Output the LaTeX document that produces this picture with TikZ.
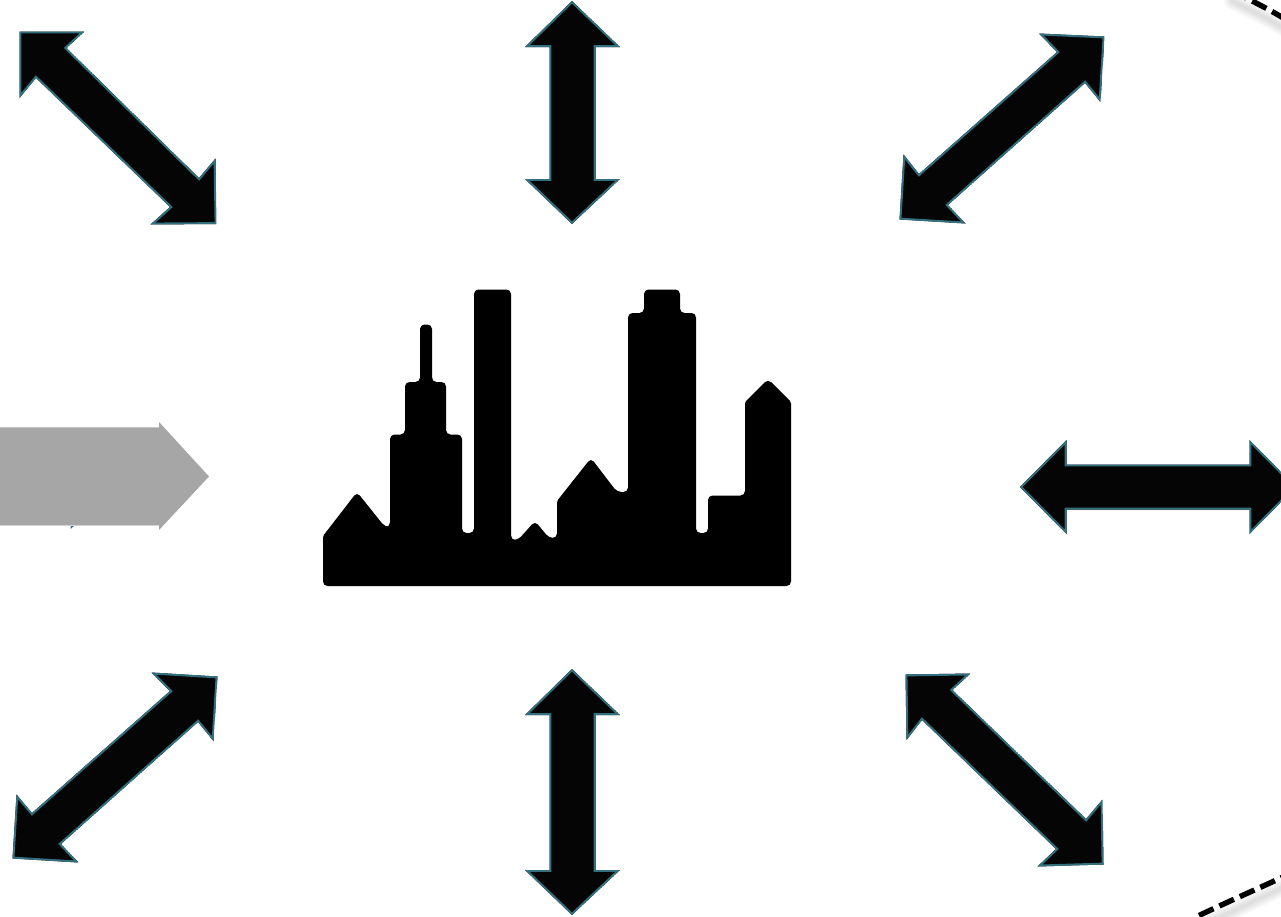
\documentclass[tikz,border=0pt]{standalone}
\definecolor{edgeteal}{HTML}{33707F}
\definecolor{nearblack}{HTML}{050505}
\definecolor{grayfill}{HTML}{A6A6A6}
\definecolor{grayedge}{HTML}{DADADA}
\newcommand{\dblshape}[1]{%
  \begin{scope}
    \clip #1;
    \fill[nearblack] #1;
    \draw[edgeteal,line width=3.8pt,line join=miter] #1;
  \end{scope}}
\tikzset{
  grayarrow/.style={fill=grayfill,draw=none},
  skyline/.style={fill=black,draw=none,rounded corners=4.5pt},
  ring/.style={draw=black,line width=5.4pt,dash pattern=on 16pt off 6.5pt},
  ringshade/.style={draw=black,opacity=0.016,line cap=round}
}
\begin{document}
\begin{tikzpicture}[x=1pt,y=-1pt]
\useasboundingbox (0,0) rectangle (1281,916);
\fill[white] (0,0) rectangle (1281,916);
\begin{scope}
\clip (0,0) rectangle (1281,916);
\foreach \w in {3,5,7,9,11,13,15,17}{
  \draw[ringshade,line width=\w pt] (1232,1) .. controls (1248,9) and (1265,17) .. (1285,29);
  \draw[ringshade,line width=\w pt] (1212,921) .. controls (1238,909) and (1258,899) .. (1288,885);
}
\draw[ring] (1232,-9) .. controls (1248,-1) and (1265,7) .. (1285,19);
\draw[ring] (1199,915.5) .. controls (1225,903) and (1255,890) .. (1285,876);
\dblshape{(19.5,31.5)--(84.5,31.5)--(66.5,48)--(199,178)--(215.5,158.5)--(216.5,224)--(150.5,224.5)--(170,207)--(36,78)--(19.5,98)--cycle}
\dblshape{(572,1)--(620,47)--(595.5,47)--(595.5,179)--(620,179)--(572,224)--(525,179)--(549.5,179)--(549.5,47)--(525,47)--cycle}
\dblshape{(1104.5,36.5)--(1100.5,102)--(1085,83)--(948,205)--(965.5,223.5)--(899.5,219.5)--(903.5,154.5)--(919,174)--(1057,52)--(1039,33.5)--cycle}
\dblshape{(1020,487)--(1066.5,440)--(1066.5,464.5)--(1249.5,464.5)--(1249.5,440)--(1296,487)--(1249.5,534)--(1249.5,509.5)--(1066.5,509.5)--(1066.5,534)--cycle}
\dblshape{(217.5,676.5)--(213.5,741)--(198,722)--(61,844)--(78.5,862.5)--(12.5,858.5)--(16.5,794.5)--(32,813)--(170,691)--(151.5,672.5)--cycle}
\dblshape{(572,669)--(620,715)--(595.5,715)--(595.5,870)--(620,870)--(572,915)--(525,870)--(549.5,870)--(549.5,715)--(525,715)--cycle}
\dblshape{(905.5,674.5)--(970.5,673.5)--(952.5,690)--(1086,819)--(1102.5,799.5)--(1103.5,864.5)--(1037.5,866.5)--(1056,849)--(922,720)--(906.5,740)--cycle}
% teal fragment and grey arrow
\fill[edgeteal] (70.5,529)--(75,525)--(71,525)--cycle;
\fill[grayedge] (0,426.5)--(160,426.5)--(160,526)--(0,526)--cycle;
\fill[grayarrow] (0,427.5)--(159,427.5)--(159,422)--(209,476.5)--(159,530)--(159,525)--(0,525)--cycle;
% skyline
\path[skyline] (323,586) [rounded corners=1.5pt] --(323,536) [rounded corners=4.5pt] --(357,492)--(385,527)--(390,527)--(390,434.5)--(405,434.5)--(405,382)--(420,382)--(420,324.5)--(432,324.5)--(432,382)--(446,382)--(446,434.5)--(462,434.5)--(462,533)--(474,533)--(474,289.5)--(511,289.5)--(511,540)--(518,540)--(535,521)--(549,538)--(557,538) [rounded corners=1.5pt] --(557,501) [rounded corners=4.5pt] --(591,458)--(617,492)--(628,492)--(628,313)--(644,313)--(644,289.5)--(680,289.5)--(680,313)--(696,313)--(696,533)--(708,533)--(708,495.5)--(745,495.5) [rounded corners=1.5pt] --(745,402) [rounded corners=4.5pt] --(768,379) [rounded corners=1.5pt] --(791,402) [rounded corners=4.5pt] --(791,586)--cycle;
\end{scope}
\end{tikzpicture}
\end{document}
